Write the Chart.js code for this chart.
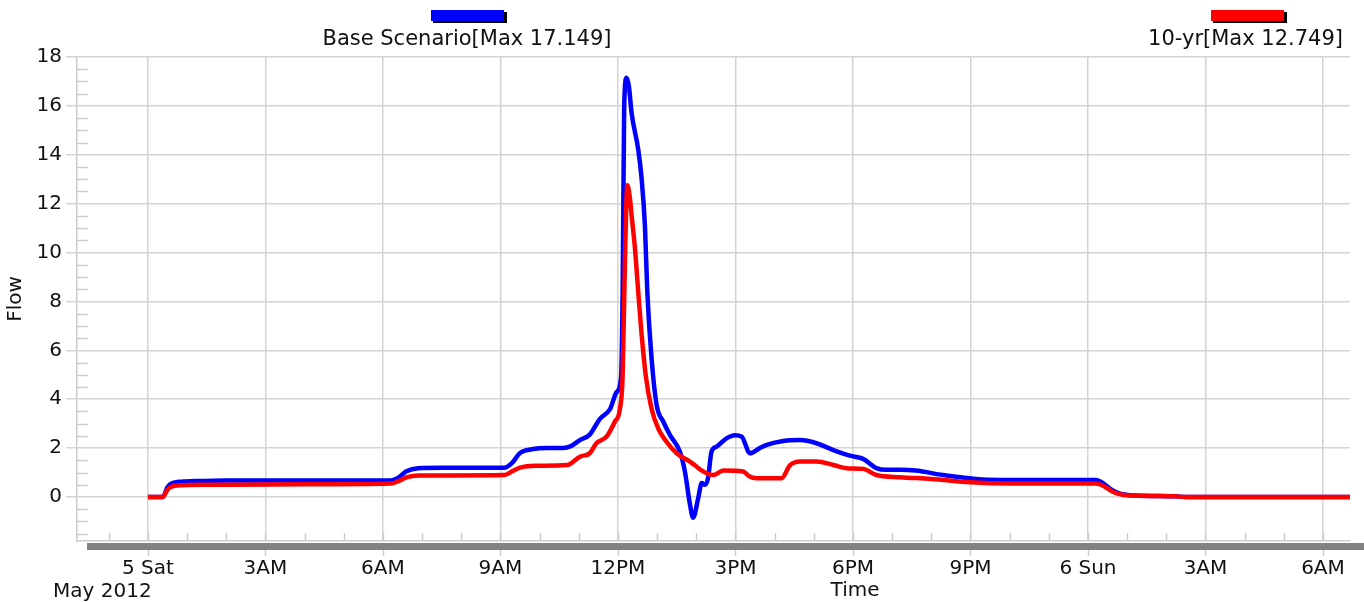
<!DOCTYPE html>
<html>
<head>
<meta charset="utf-8">
<script src="https://cdn.jsdelivr.net/npm/chart.js@4"></script>
<style>
  html, body { margin: 0; padding: 0; background: #fff; }
  #wrap { width: 1364px; height: 602px; position: relative; }
</style>
</head>
<body>
<div id="wrap"><canvas id="flowChart"></canvas></div>
<script>
// hours after 5 May 2012 00:00
const baseHours = [0, 0.38, 0.5, 0.6, 0.8, 1.2, 2, 4, 6.2, 6.4, 6.6, 6.9, 7.5, 9.1, 9.3, 9.5, 9.8, 10.2, 10.6, 10.8,
  11.03, 11.28, 11.54, 11.8, 11.97, 12.08, 12.12, 12.16, 12.22, 12.28, 12.35, 12.52, 12.6, 12.69, 12.75, 12.86, 12.99,
  13.16, 13.33, 13.58, 13.71, 13.84, 13.92, 14.05, 14.14, 14.22, 14.3, 14.39, 14.52, 14.77, 14.99, 15.16, 15.37, 15.62,
  15.8, 16.22, 16.65, 17.07, 17.5, 17.92, 18.26, 18.6, 18.86, 19.2, 19.6, 20.3, 20.8, 21.3, 22, 24.2, 24.4, 24.6, 24.8,
  25.2, 26.2, 26.5, 30.7];
const baseFlow = [0, 0, 0.4, 0.55, 0.62, 0.65, 0.68, 0.68, 0.68, 0.8, 1.05, 1.18, 1.2, 1.2, 1.4, 1.8, 1.95, 2.0, 2.0, 2.08,
  2.33, 2.55, 3.2, 3.6, 4.3, 4.9, 8.4, 16.0, 17.149, 16.8, 15.7, 14.2, 13.1, 11.07, 8.4, 5.65, 3.75,
  3.08, 2.53, 1.86, 1.04, -0.31, -0.85, -0.04, 0.57, 0.5, 0.77, 1.86, 2.06, 2.4, 2.53, 2.47, 1.79, 2.0,
  2.13, 2.29, 2.33, 2.2, 1.92, 1.69, 1.56, 1.18, 1.11, 1.11, 1.08, 0.9, 0.8, 0.72, 0.7, 0.7, 0.55, 0.3, 0.15,
  0.06, 0.03, 0, 0];

const tenYrHours = [0, 0.38, 0.5, 0.6, 0.8, 1.5, 4, 6.2, 6.4, 6.6, 6.9, 9.1, 9.3, 9.5, 9.9, 10.7, 11.03, 11.28, 11.45,
  11.71, 11.92, 12.05, 12.12, 12.18, 12.24, 12.3, 12.35, 12.43, 12.52, 12.6, 12.71, 12.86, 13.03, 13.24, 13.5, 13.84,
  14.18, 14.43, 14.69, 15.2, 15.35, 15.54, 16.18, 16.39, 16.65, 17.07, 17.5, 17.84, 18.26, 18.6, 19.2, 20, 21, 22,
  24.2, 24.4, 24.6, 24.8, 25.2, 26.2, 26.5, 30.7];
const tenYrFlow = [0, 0, 0.3, 0.42, 0.48, 0.5, 0.52, 0.55, 0.65, 0.8, 0.88, 0.9, 1.05, 1.2, 1.28, 1.31, 1.65, 1.79, 2.2,
  2.47, 3.08, 3.6, 4.97, 9.7, 12.749, 12.3, 11.5, 10.26, 8.36, 6.74, 4.97, 3.6, 2.8, 2.26, 1.79, 1.45,
  1.04, 0.9, 1.08, 1.04, 0.85, 0.77, 0.77, 1.29, 1.45, 1.45, 1.31, 1.18, 1.15, 0.9, 0.81, 0.74, 0.6, 0.55,
  0.55, 0.45, 0.25, 0.12, 0.06, 0.03, 0, 0];

const timeLabels = { 0: '5 Sat', 3: '3AM', 6: '6AM', 9: '9AM', 12: '12PM', 15: '3PM', 18: '6PM', 21: '9PM',
  24: '6 Sun', 27: '3AM', 30: '6AM' };
const seriesNames = ['Base Scenario[Max 17.149]', '10-yr[Max 12.749]'];

const FONT = "'DejaVu Sans', 'Liberation Sans', Arial, sans-serif";
const toPoints = (xs, ys) => xs.map((x, i) => ({ x, y: ys[i] }));

const decorations = {
  id: 'decorations',
  afterDraw(chart) {
    const ctx = chart.ctx;
    const area = chart.chartArea;
    const xs = chart.scales.x;
    const ys = chart.scales.y;
    ctx.save();

    // minor ticks inside the plot
    ctx.strokeStyle = '#cccccc';
    ctx.lineWidth = 1.5;
    for (let v = -1.5; v <= 18; v += 0.5) {
      if (v % 2 === 0) continue;
      const py = Math.round(ys.getPixelForValue(v)) + 0.5;
      ctx.beginPath(); ctx.moveTo(area.left, py); ctx.lineTo(area.left + 11, py); ctx.stroke();
    }
    for (let h = -1; h <= 30; h++) {
      const px = Math.round(xs.getPixelForValue(h)) + 0.5;
      ctx.beginPath(); ctx.moveTo(px, area.bottom - 8); ctx.lineTo(px, area.bottom); ctx.stroke();
    }

    // gray time bar
    ctx.fillStyle = '#828282';
    ctx.fillRect(area.left + 10, area.bottom + 2, chart.width - area.left - 10, 7);
    ctx.strokeStyle = '#cccccc';
    for (let h = 0; h <= 30; h += 3) {
      const px = Math.round(xs.getPixelForValue(h)) + 0.5;
      ctx.beginPath(); ctx.moveTo(px, area.bottom + 9); ctx.lineTo(px, area.bottom + 15); ctx.stroke();
    }

    // legend swatches
    const swatch = (x, color) => {
      ctx.fillStyle = '#000';
      ctx.fillRect(x + 2, 12, 74, 11);
      ctx.fillStyle = color;
      ctx.fillRect(x, 10, 73, 11);
    };
    swatch(431, '#0000ff');
    swatch(1211, '#ff0000');

    ctx.fillStyle = '#111';
    ctx.font = '21px ' + FONT;
    ctx.textBaseline = 'middle';
    ctx.textAlign = 'center';
    ctx.fillText(seriesNames[0], 467, 40);
    ctx.textAlign = 'right';
    ctx.fillText(seriesNames[1], 1343, 40);

    ctx.font = '20px ' + FONT;
    ctx.textAlign = 'left';
    ctx.fillText('May 2012', 53, 592);
    ctx.textAlign = 'center';
    ctx.fillText('Time', 855, 591);
    ctx.restore();
  }
};

new Chart(document.getElementById('flowChart'), {
  type: 'line',
  data: {
    datasets: [
      {
        label: seriesNames[0],
        data: toPoints(baseHours, baseFlow),
        borderColor: '#0000ff',
        borderWidth: 4.5,
        pointRadius: 0,
        cubicInterpolationMode: 'monotone',
        fill: false,
        order: 1
      },
      {
        label: seriesNames[1],
        data: toPoints(tenYrHours, tenYrFlow),
        borderColor: '#ff0000',
        borderWidth: 4.5,
        pointRadius: 0,
        cubicInterpolationMode: 'monotone',
        fill: false,
        order: 0
      }
    ]
  },
  options: {
    responsive: true,
    maintainAspectRatio: false,
    animation: false,
    layout: { padding: { top: 57, right: 14, left: 0, bottom: 0 } },
    plugins: {
      legend: { display: false },
      tooltip: { enabled: false }
    },
    scales: {
      x: {
        type: 'linear',
        min: -1.81,
        max: 30.69,
        afterFit: (s) => { s.height = 61; },
        border: { color: '#cccccc', width: 1.5 },
        grid: {
          color: (c) => (c.tick && c.tick.value % 3 === 0) ? '#d4d4d4' : 'rgba(0,0,0,0)',
          lineWidth: 1.5,
          drawTicks: true,
          tickLength: 14,
          tickColor: 'rgba(0,0,0,0)'
        },
        ticks: {
          stepSize: 1,
          includeBounds: false,
          autoSkip: false,
          maxRotation: 0,
          padding: 2,
          color: '#111',
          font: { family: FONT, size: 20 },
          callback: (v) => timeLabels[v] !== undefined ? timeLabels[v] : ''
        }
      },
      y: {
        min: -1.8,
        max: 18,
        afterFit: (s) => { s.width = 77; },
        border: { color: '#cccccc', width: 1.5 },
        grid: {
          color: '#d4d4d4',
          lineWidth: 1.5,
          tickLength: 11,
          tickColor: '#d4d4d4'
        },
        ticks: {
          stepSize: 2,
          includeBounds: false,
          padding: 4,
          color: '#111',
          font: { family: FONT, size: 20 }
        },
        title: {
          display: true,
          text: 'Flow',
          color: '#111',
          font: { family: FONT, size: 20 },
          padding: { top: 4, bottom: 0 }
        }
      }
    }
  },
  plugins: [decorations]
});
</script>
</body>
</html>
